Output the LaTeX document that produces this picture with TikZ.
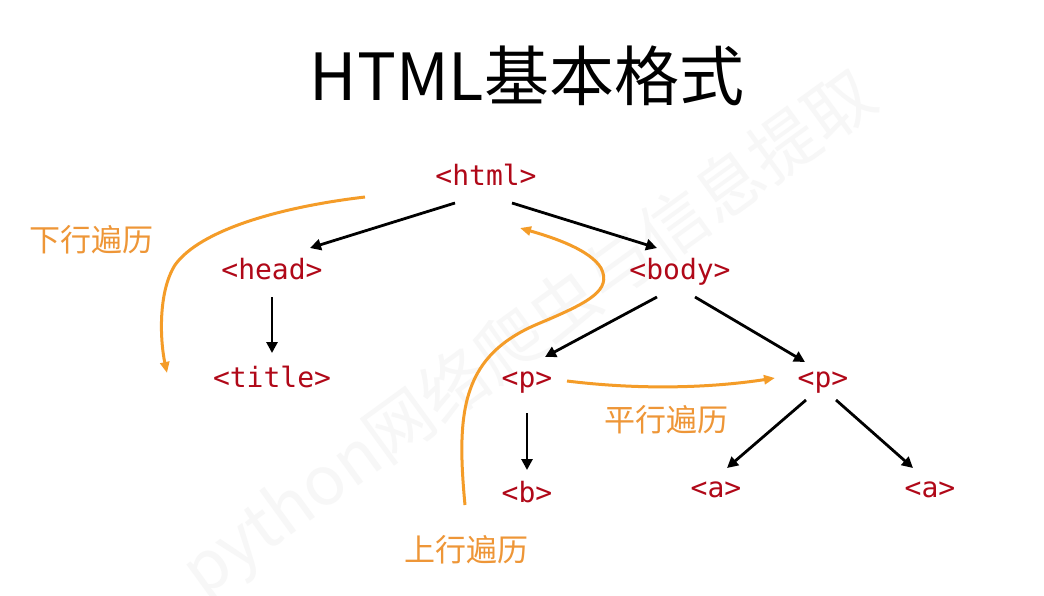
\documentclass[tikz,border=0pt]{standalone}
\usepackage{fontspec}
\newfontfamily\cjk{Noto Sans CJK SC}
\newfontfamily\codefont{DejaVu Sans Mono}
\usetikzlibrary{arrows.meta}
\definecolor{tagred}{RGB}{176,8,24}
\definecolor{trav}{RGB}{244,156,40}
\definecolor{travtext}{RGB}{238,150,55}
\tikzset{
  tag/.style={font=\codefont\fontsize{28}{30}\selectfont, text=tagred, inner sep=0pt, text height=20pt, text depth=6pt},
  edge/.style={draw=black, line width=2.8pt, -{Triangle[length=11pt,width=11pt]}},
  travline/.style={draw=trav, line width=3pt, -{Triangle[length=11pt,width=9pt]}},
  travlabel/.style={font=\cjk\fontsize{31}{33}\selectfont, text=travtext, inner sep=0pt},
  wmark/.style={font=\cjk\fontsize{68}{72}\selectfont, text=black!3, inner sep=0pt}
}
\begin{document}
\begin{tikzpicture}[x=1pt,y=-1pt]
\useasboundingbox[fill=white] (0,0) rectangle (1044,595);
% watermark
\node[wmark, rotate=36] (wm) at (530,335) {python网络爬虫与信息提取};
% title
\node[font=\cjk\fontsize{65}{70}\selectfont, inner sep=0pt] (title) at (527,76) {HTML基本格式};
% tree nodes
\node[tag] (html) at (486,178) {<html>};
\node[tag] (head) at (272,272) {<head>};
\node[tag] (body) at (680,272) {<body>};
\node[tag] (ttl) at (272,380) {<title>};
\node[tag] (p1) at (527,380) {<p>};
\node[tag] (p2) at (823,380) {<p>};
\node[tag] (b) at (527,495) {<b>};
\node[tag] (a1) at (716,490) {<a>};
\node[tag] (a2) at (930,490) {<a>};
% tree edges
\draw[edge] ([shift={(-31,25)}]html.center) -- ([shift={(38,-24)}]head.center);
\draw[edge] ([shift={(26,25)}]html.center) -- ([shift={(-23,-24)}]body.center);
\draw[edge] ([shift={(0,25)}]head.center) -- ([shift={(0,-27)}]ttl.center);
\draw[edge] ([shift={(-23,25)}]body.center) -- ([shift={(18,-23)}]p1.center);
\draw[edge] ([shift={(15,25)}]body.center) -- ([shift={(-18,-18)}]p2.center);
\draw[edge] ([shift={(0,33)}]p1.center) -- ([shift={(0,-25)}]b.center);
\draw[edge] ([shift={(-17,20)}]p2.center) -- ([shift={(11,-22)}]a1.center);
\draw[edge] ([shift={(13,20)}]p2.center) -- ([shift={(-17,-22)}]a2.center);
% traversal labels
\node[travlabel] (down) at (91,240) {下行遍历};
\node[travlabel] (up) at (466,550) {上行遍历};
\node[travlabel] (side) at (666,420) {平行遍历};
% traversal curves
\coordinate (ds) at (365,197);
\coordinate (de) at (167,373);
\draw[travline] (ds) .. controls (280,207) and (200,230) .. (175,265)
  .. controls (158,292) and (160,340) .. (de);
\coordinate (us) at (465,505);
\coordinate (ue) at (520,228);
\draw[travline] (us) .. controls (456,410) and (462,355) .. (540,323)
  .. controls (590,302) and (612,290) .. (601,268)
  .. controls (590,250) and (555,238) .. (ue);
\draw[travline] ([shift={(40,1)}]p1.center) .. controls (640,390) and (710,388) .. ([shift={(-48,-2)}]p2.center);
\end{tikzpicture}
\end{document}
